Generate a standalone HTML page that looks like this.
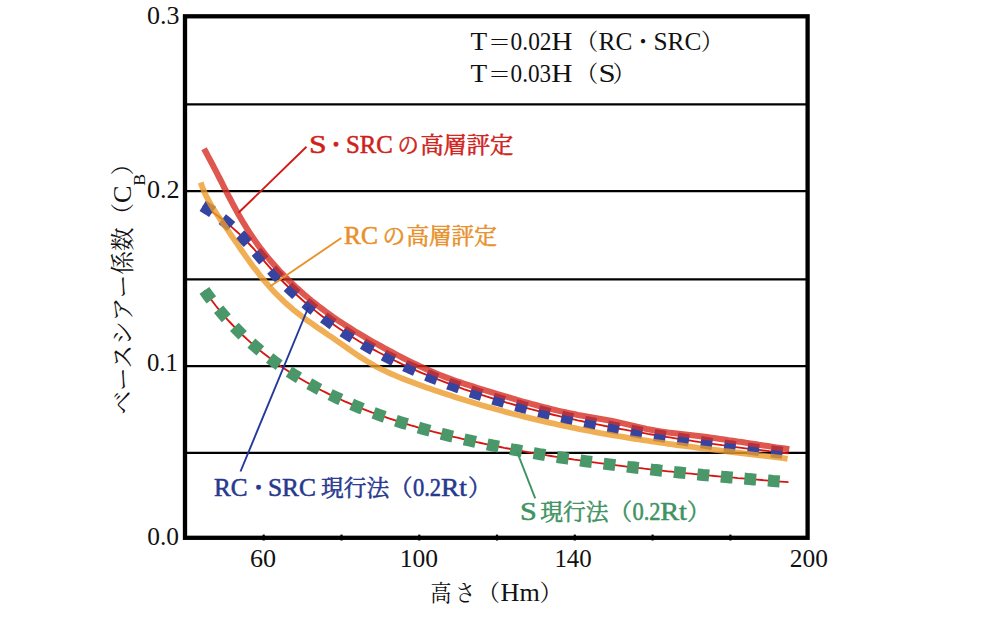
<!DOCTYPE html>
<html lang="ja"><head><meta charset="utf-8"><title>ベースシアー係数</title>
<style>
html,body{margin:0;padding:0;background:#fff;}
body{width:1000px;height:622px;overflow:hidden;}
svg{display:block;}
text{font-family:'Liberation Serif','Noto Serif CJK SC',serif;}
.cj{font-size:23px;}
.la{font-size:25.5px;}
.ax{font-size:24.5px;}
</style></head><body>
<svg width="1000" height="622" viewBox="0 0 1000 622">
<rect width="1000" height="622" fill="#fff"/>
<g stroke="#000" stroke-width="2.25" fill="none"><line x1="185" y1="104.4" x2="807.6" y2="104.4"/><line x1="185" y1="191.1" x2="807.6" y2="191.1"/><line x1="185" y1="279.4" x2="807.6" y2="279.4"/><line x1="185" y1="366.1" x2="807.6" y2="366.1"/><line x1="185" y1="452.8" x2="807.6" y2="452.8"/></g>
<g fill="none" stroke="#d8140e" stroke-width="1.85">
<path d="M202.8 205.8 L206.7 208.2 L210.6 210.7 L214.5 213.4 L218.4 216.2 L222.3 219.2 L226.2 222.3 L230.1 225.6 L234.0 229.1 L238.0 232.7 L241.9 236.5 L245.8 240.4 L249.7 244.5 L253.6 248.7 L257.5 253.1 L261.4 257.7 L265.3 262.3 L269.2 266.9 L273.1 271.2 L277.0 275.5 L280.9 279.6 L284.8 283.5 L288.7 287.4 L292.6 291.1 L296.5 294.8 L300.4 298.3 L304.3 301.7 L308.2 305.0 L312.1 308.3 L316.0 311.4 L319.9 314.5 L323.9 317.5 L327.8 320.4 L331.7 323.2 L335.6 326.0 L339.5 328.7 L343.4 331.3 L347.3 333.9 L351.2 336.4 L355.1 338.8 L359.0 341.2 L362.9 343.5 L366.8 345.8 L370.7 348.0 L374.6 350.1 L378.5 352.3 L382.4 354.3 L386.3 356.4 L390.2 358.3 L394.1 360.3 L398.0 362.2 L401.9 364.0 L405.8 365.9 L409.8 367.6 L413.7 369.4 L417.6 371.1 L421.5 372.8 L425.4 374.4 L429.3 376.0 L433.2 377.6 L437.1 379.2 L441.0 380.7 L444.9 382.2 L448.8 383.7 L452.7 385.1 L456.6 386.5 L460.5 387.9 L464.4 389.3 L468.3 390.6 L472.2 391.9 L476.1 393.2 L480.0 394.5 L483.9 395.7 L487.8 396.9 L491.7 398.1 L495.7 399.3 L499.6 400.5 L503.5 401.6 L507.4 402.8 L511.3 403.9 L515.2 405.0 L519.1 406.0 L523.0 407.1 L526.9 408.1 L530.8 409.2 L534.7 410.2 L538.6 411.2 L542.5 412.1 L546.4 413.1 L550.3 414.0 L554.2 415.0 L558.1 415.9 L562.0 416.8 L565.9 417.7 L569.8 418.6 L573.7 419.4 L577.6 420.3 L581.6 421.1 L585.5 422.0 L589.4 422.8 L593.3 423.6 L597.2 424.4 L601.1 425.2 L605.0 426.0 L608.9 426.7 L612.8 427.5 L616.7 428.2 L620.6 429.0 L624.5 429.7 L628.4 430.4 L632.3 431.1 L636.2 431.8 L640.1 432.5 L644.0 433.2 L647.9 433.9 L651.8 434.5 L655.7 435.2 L659.6 435.8 L663.5 436.5 L667.5 437.1 L671.4 437.7 L675.3 438.3 L679.2 438.9 L683.1 439.5 L687.0 440.1 L690.9 440.7 L694.8 441.3 L698.7 441.9 L702.6 442.4 L706.5 443.0 L710.4 443.6 L714.3 444.1 L718.2 444.6 L722.1 445.2 L726.0 445.7 L729.9 446.2 L733.8 446.8 L737.7 447.3 L741.6 447.8 L745.5 448.3 L749.4 448.8 L753.4 449.3 L757.3 449.7 L761.2 450.2 L765.1 450.7 L769.0 451.2 L772.9 451.6 L776.8 452.1 L780.7 452.5 L784.6 453.0 L788.5 453.4"/>
<path d="M204.4 290.4 L208.3 295.9 L212.2 301.0 L216.0 306.0 L219.9 310.8 L223.8 315.4 L227.7 319.8 L231.6 324.0 L235.5 328.1 L239.4 332.0 L243.3 335.8 L247.2 339.4 L251.1 342.9 L255.0 346.3 L258.9 349.6 L262.8 352.8 L266.7 355.8 L270.6 358.8 L274.5 361.7 L278.4 364.5 L282.2 367.2 L286.1 369.8 L290.0 372.3 L293.9 374.8 L297.8 377.2 L301.7 379.5 L305.6 381.8 L309.5 383.9 L313.4 386.1 L317.3 388.2 L321.2 390.2 L325.1 392.1 L329.0 394.1 L332.9 395.9 L336.8 397.7 L340.7 399.5 L344.6 401.3 L348.4 402.9 L352.3 404.6 L356.2 406.2 L360.1 407.8 L364.0 409.3 L367.9 410.8 L371.8 412.3 L375.7 413.7 L379.6 415.1 L383.5 416.5 L387.4 417.8 L391.3 419.1 L395.2 420.4 L399.1 421.7 L403.0 422.9 L406.9 424.1 L410.8 425.3 L414.7 426.4 L418.5 427.6 L422.4 428.7 L426.3 429.8 L430.2 430.8 L434.1 431.9 L438.0 432.9 L441.9 433.9 L445.8 434.9 L449.7 435.9 L453.6 436.8 L457.5 437.7 L461.4 438.7 L465.3 439.6 L469.2 440.5 L473.1 441.3 L477.0 442.2 L480.9 443.0 L484.7 443.8 L488.6 444.7 L492.5 445.5 L496.4 446.2 L500.3 447.0 L504.2 447.8 L508.1 448.5 L512.0 449.3 L515.9 450.0 L519.8 450.7 L523.7 451.4 L527.6 452.1 L531.5 452.8 L535.4 453.4 L539.3 454.1 L543.2 454.7 L547.1 455.4 L550.9 456.0 L554.8 456.6 L558.7 457.2 L562.6 457.8 L566.5 458.4 L570.4 459.0 L574.3 459.6 L578.2 460.1 L582.1 460.7 L586.0 461.3 L589.9 461.8 L593.8 462.3 L597.7 462.9 L601.6 463.4 L605.5 463.9 L609.4 464.4 L613.3 464.9 L617.1 465.4 L621.0 465.9 L624.9 466.4 L628.8 466.9 L632.7 467.3 L636.6 467.8 L640.5 468.2 L644.4 468.7 L648.3 469.1 L652.2 469.6 L656.1 470.0 L660.0 470.5 L663.9 470.9 L667.8 471.3 L671.7 471.7 L675.6 472.1 L679.5 472.5 L683.3 472.9 L687.2 473.3 L691.1 473.7 L695.0 474.1 L698.9 474.5 L702.8 474.9 L706.7 475.2 L710.6 475.6 L714.5 476.0 L718.4 476.3 L722.3 476.7 L726.2 477.0 L730.1 477.4 L734.0 477.7 L737.9 478.1 L741.8 478.4 L745.7 478.7 L749.6 479.1 L753.4 479.4 L757.3 479.7 L761.2 480.0 L765.1 480.3 L769.0 480.6 L772.9 481.0 L776.8 481.3 L780.7 481.6 L784.6 481.9 L788.5 482.2"/>
</g>
<path d="M202.8 205.8 L206.7 208.2 L210.6 210.7 L214.5 213.4 L218.4 216.2 L222.3 219.2 L226.2 222.3 L230.1 225.6 L234.0 229.1 L238.0 232.7 L241.9 236.5 L245.8 240.4 L249.7 244.5 L253.6 248.7 L257.5 253.1 L261.4 257.7 L265.3 262.3 L269.2 266.9 L273.1 271.2 L277.0 275.5 L280.9 279.6 L284.8 283.5 L288.7 287.4 L292.6 291.1 L296.5 294.8 L300.4 298.3 L304.3 301.7 L308.2 305.0 L312.1 308.3 L316.0 311.4 L319.9 314.5 L323.9 317.5 L327.8 320.4 L331.7 323.2 L335.6 326.0 L339.5 328.7 L343.4 331.3 L347.3 333.9 L351.2 336.4 L355.1 338.8 L359.0 341.2 L362.9 343.5 L366.8 345.8 L370.7 348.0 L374.6 350.1 L378.5 352.3 L382.4 354.3 L386.3 356.4 L390.2 358.3 L394.1 360.3 L398.0 362.2 L401.9 364.0 L405.8 365.9 L409.8 367.6 L413.7 369.4 L417.6 371.1 L421.5 372.8 L425.4 374.4 L429.3 376.0 L433.2 377.6 L437.1 379.2 L441.0 380.7 L444.9 382.2 L448.8 383.7 L452.7 385.1 L456.6 386.5 L460.5 387.9 L464.4 389.3 L468.3 390.6 L472.2 391.9 L476.1 393.2 L480.0 394.5 L483.9 395.7 L487.8 396.9 L491.7 398.1 L495.7 399.3 L499.6 400.5 L503.5 401.6 L507.4 402.8 L511.3 403.9 L515.2 405.0 L519.1 406.0 L523.0 407.1 L526.9 408.1 L530.8 409.2 L534.7 410.2 L538.6 411.2 L542.5 412.1 L546.4 413.1 L550.3 414.0 L554.2 415.0 L558.1 415.9 L562.0 416.8 L565.9 417.7 L569.8 418.6 L573.7 419.4 L577.6 420.3 L581.6 421.1 L585.5 422.0 L589.4 422.8 L593.3 423.6 L597.2 424.4 L601.1 425.2 L605.0 426.0 L608.9 426.7 L612.8 427.5 L616.7 428.2 L620.6 429.0 L624.5 429.7 L628.4 430.4 L632.3 431.1 L636.2 431.8 L640.1 432.5 L644.0 433.2 L647.9 433.9 L651.8 434.5 L655.7 435.2 L659.6 435.8 L663.5 436.5 L667.5 437.1 L671.4 437.7 L675.3 438.3 L679.2 438.9 L683.1 439.5 L687.0 440.1 L690.9 440.7 L694.8 441.3 L698.7 441.9 L702.6 442.4 L706.5 443.0 L710.4 443.6 L714.3 444.1 L718.2 444.6 L722.1 445.2 L726.0 445.7 L729.9 446.2 L733.8 446.8 L737.7 447.3 L741.6 447.8 L745.5 448.3 L749.4 448.8 L753.4 449.3 L757.3 449.7 L761.2 450.2 L765.1 450.7 L769.0 451.2 L772.9 451.6 L776.8 452.1 L780.7 452.5 L784.6 453.0 L788.5 453.4" fill="none" stroke="#3444a0" stroke-width="12.2" stroke-dasharray="11.6 12"/>
<path d="M204.4 290.4 L208.3 295.9 L212.2 301.0 L216.0 306.0 L219.9 310.8 L223.8 315.4 L227.7 319.8 L231.6 324.0 L235.5 328.1 L239.4 332.0 L243.3 335.8 L247.2 339.4 L251.1 342.9 L255.0 346.3 L258.9 349.6 L262.8 352.8 L266.7 355.8 L270.6 358.8 L274.5 361.7 L278.4 364.5 L282.2 367.2 L286.1 369.8 L290.0 372.3 L293.9 374.8 L297.8 377.2 L301.7 379.5 L305.6 381.8 L309.5 383.9 L313.4 386.1 L317.3 388.2 L321.2 390.2 L325.1 392.1 L329.0 394.1 L332.9 395.9 L336.8 397.7 L340.7 399.5 L344.6 401.3 L348.4 402.9 L352.3 404.6 L356.2 406.2 L360.1 407.8 L364.0 409.3 L367.9 410.8 L371.8 412.3 L375.7 413.7 L379.6 415.1 L383.5 416.5 L387.4 417.8 L391.3 419.1 L395.2 420.4 L399.1 421.7 L403.0 422.9 L406.9 424.1 L410.8 425.3 L414.7 426.4 L418.5 427.6 L422.4 428.7 L426.3 429.8 L430.2 430.8 L434.1 431.9 L438.0 432.9 L441.9 433.9 L445.8 434.9 L449.7 435.9 L453.6 436.8 L457.5 437.7 L461.4 438.7 L465.3 439.6 L469.2 440.5 L473.1 441.3 L477.0 442.2 L480.9 443.0 L484.7 443.8 L488.6 444.7 L492.5 445.5 L496.4 446.2 L500.3 447.0 L504.2 447.8 L508.1 448.5 L512.0 449.3 L515.9 450.0 L519.8 450.7 L523.7 451.4 L527.6 452.1 L531.5 452.8 L535.4 453.4 L539.3 454.1 L543.2 454.7 L547.1 455.4 L550.9 456.0 L554.8 456.6 L558.7 457.2 L562.6 457.8 L566.5 458.4 L570.4 459.0 L574.3 459.6 L578.2 460.1 L582.1 460.7 L586.0 461.3 L589.9 461.8 L593.8 462.3 L597.7 462.9 L601.6 463.4 L605.5 463.9 L609.4 464.4 L613.3 464.9 L617.1 465.4 L621.0 465.9 L624.9 466.4 L628.8 466.9 L632.7 467.3 L636.6 467.8 L640.5 468.2 L644.4 468.7 L648.3 469.1 L652.2 469.6 L656.1 470.0 L660.0 470.5 L663.9 470.9 L667.8 471.3 L671.7 471.7 L675.6 472.1 L679.5 472.5 L683.3 472.9 L687.2 473.3 L691.1 473.7 L695.0 474.1 L698.9 474.5 L702.8 474.9 L706.7 475.2 L710.6 475.6 L714.5 476.0 L718.4 476.3 L722.3 476.7 L726.2 477.0 L730.1 477.4 L734.0 477.7 L737.9 478.1 L741.8 478.4 L745.7 478.7 L749.6 479.1 L753.4 479.4 L757.3 479.7 L761.2 480.0 L765.1 480.3 L769.0 480.6 L772.9 481.0 L776.8 481.3 L780.7 481.6 L784.6 481.9 L788.5 482.2" fill="none" stroke="#4a986a" stroke-width="12" stroke-dasharray="11.8 11.8"/>
<path d="M200.7 182.5 L202.2 186.8 L203.9 191.0 L205.7 195.0 L207.7 198.9 L209.7 202.6 L211.8 206.3 L214.0 209.8 L216.3 213.4 L218.7 216.8 L221.0 220.3 L223.4 223.8 L225.8 227.2 L228.2 230.7 L230.6 234.3 L233.0 237.8 L235.4 241.4 L237.9 244.9 L240.3 248.5 L242.8 252.0 L245.3 255.6 L247.8 259.1 L250.4 262.7 L252.9 266.2 L255.6 269.6 L258.2 273.1 L260.9 276.5 L263.6 279.8 L266.4 283.1 L269.2 286.4 L272.1 289.6 L275.0 292.7 L278.0 295.8 L281.0 298.7 L284.1 301.7 L287.3 304.5 L290.5 307.3 L293.7 310.0 L297.0 312.6 L300.4 315.2 L303.7 317.8 L307.1 320.3 L310.6 322.7 L314.1 325.1 L317.5 327.6 L321.1 330.0 L324.6 332.3 L328.1 334.8 L331.7 337.2 L335.2 339.6 L338.8 342.1 L342.3 344.6 L345.9 347.1 L349.4 349.6 L353.0 352.1 L356.6 354.6 L360.2 357.0 L363.9 359.3 L367.6 361.6 L371.3 363.8 L375.0 365.9 L378.8 368.0 L382.7 369.9 L386.5 371.7 L390.4 373.5 L394.3 375.2 L398.3 376.9 L402.3 378.5 L406.2 380.0 L410.2 381.5 L414.3 383.0 L418.3 384.5 L422.3 385.9 L426.3 387.4 L430.4 388.8 L434.4 390.2 L438.5 391.6 L442.5 392.9 L446.6 394.3 L450.7 395.6 L454.8 396.9 L458.8 398.2 L462.9 399.5 L467.0 400.8 L471.1 402.0 L475.2 403.3 L479.3 404.5 L483.5 405.7 L487.6 406.9 L491.7 408.0 L495.8 409.2 L500.0 410.3 L504.1 411.5 L508.3 412.6 L512.4 413.7 L516.6 414.7 L520.7 415.8 L524.9 416.9 L529.1 417.9 L533.2 418.9 L537.4 419.9 L541.6 420.9 L545.8 421.9 L550.0 422.8 L554.2 423.7 L558.4 424.7 L562.6 425.6 L566.8 426.5 L571.0 427.3 L575.2 428.2 L579.4 429.1 L583.6 429.9 L587.8 430.7 L592.0 431.5 L596.3 432.3 L600.5 433.1 L604.7 433.8 L609.0 434.6 L613.2 435.3 L617.4 436.0 L621.7 436.7 L625.9 437.4 L630.1 438.1 L634.4 438.8 L638.6 439.4 L642.9 440.1 L647.1 440.7 L651.4 441.4 L655.6 442.0 L659.9 442.6 L664.1 443.2 L668.4 443.8 L672.6 444.4 L676.9 445.0 L681.2 445.5 L685.4 446.1 L689.7 446.7 L693.9 447.2 L698.2 447.8 L702.5 448.3 L706.7 448.8 L711.0 449.4 L715.2 449.9 L719.5 450.4 L723.8 451.0 L728.0 451.5 L732.3 452.0 L736.6 452.5 L740.8 453.0 L745.1 453.6 L749.3 454.1 L753.6 454.6 L757.9 455.1 L762.1 455.6 L766.4 456.2 L770.6 456.7 L774.9 457.2 L779.1 457.7 L783.4 458.2 L787.6 458.8" fill="none" stroke="#ec9b2a" stroke-opacity="0.8" stroke-width="5.8"/>
<path d="M204.0 148.8 L206.1 152.6 L208.1 156.4 L210.2 160.2 L212.2 164.0 L214.2 167.9 L216.2 171.7 L218.2 175.6 L220.2 179.5 L222.2 183.4 L224.1 187.3 L226.1 191.2 L228.1 195.1 L230.2 199.0 L232.2 202.8 L234.3 206.7 L236.4 210.6 L238.5 214.4 L240.7 218.2 L242.9 222.0 L245.2 225.7 L247.5 229.5 L249.9 233.2 L252.3 236.8 L254.8 240.4 L257.3 244.0 L259.9 247.6 L262.6 251.0 L265.3 254.5 L268.1 257.9 L270.9 261.2 L273.8 264.5 L276.7 267.8 L279.6 271.0 L282.7 274.2 L285.7 277.3 L288.8 280.4 L292.0 283.5 L295.1 286.5 L298.4 289.4 L301.6 292.3 L304.9 295.2 L308.3 298.0 L311.6 300.8 L315.0 303.5 L318.4 306.2 L321.9 308.8 L325.4 311.4 L328.9 314.0 L332.4 316.5 L336.0 318.9 L339.5 321.4 L343.2 323.8 L346.8 326.1 L350.5 328.4 L354.1 330.7 L357.8 333.0 L361.6 335.2 L365.3 337.4 L369.1 339.6 L372.9 341.8 L376.7 343.9 L380.5 346.0 L384.4 348.2 L388.2 350.2 L392.1 352.3 L396.0 354.4 L399.9 356.4 L403.9 358.4 L407.8 360.4 L411.8 362.4 L415.8 364.3 L419.8 366.2 L423.8 368.1 L427.8 369.9 L431.9 371.6 L435.9 373.4 L440.0 375.0 L444.1 376.6 L448.1 378.1 L452.2 379.6 L456.3 381.1 L460.5 382.5 L464.6 383.9 L468.7 385.2 L472.9 386.5 L477.0 387.8 L481.2 389.1 L485.3 390.4 L489.5 391.7 L493.7 392.9 L497.8 394.2 L502.0 395.4 L506.2 396.7 L510.4 397.9 L514.6 399.2 L518.8 400.4 L523.0 401.6 L527.2 402.7 L531.4 403.9 L535.7 405.0 L539.9 406.2 L544.1 407.3 L548.3 408.3 L552.6 409.4 L556.8 410.4 L561.1 411.4 L565.3 412.3 L569.6 413.2 L573.8 414.1 L578.1 415.0 L582.4 415.8 L586.6 416.5 L590.9 417.3 L595.2 418.1 L599.4 418.8 L603.7 419.5 L608.0 420.3 L612.3 421.1 L616.6 422.0 L620.9 422.9 L625.2 423.9 L629.5 424.9 L633.8 426.0 L638.1 427.0 L642.4 428.0 L646.7 429.0 L651.0 429.8 L655.3 430.6 L659.6 431.3 L663.9 431.9 L668.2 432.5 L672.5 433.0 L676.9 433.5 L681.2 434.0 L685.5 434.5 L689.8 435.0 L694.1 435.5 L698.5 436.1 L702.8 436.6 L707.1 437.1 L711.4 437.7 L715.8 438.3 L720.1 438.9 L724.4 439.5 L728.7 440.2 L733.1 440.8 L737.4 441.5 L741.7 442.1 L746.0 442.8 L750.4 443.4 L754.7 444.1 L759.0 444.8 L763.4 445.4 L767.7 446.1 L772.0 446.8 L776.3 447.4 L780.7 448.0 L785.0 448.6 L789.3 449.3" fill="none" stroke="#d62e24" stroke-opacity="0.8" stroke-width="6.1"/>
<g fill="none" stroke-width="1.9">
<line x1="306.5" y1="146.8" x2="238.5" y2="212.8" stroke="#d01a16"/>
<line x1="341.3" y1="238" x2="270.3" y2="286.2" stroke="#e8922a"/>
<line x1="308.5" y1="307" x2="240.5" y2="471.5" stroke="#24389a"/>
<line x1="517.2" y1="452.1" x2="535.2" y2="498.3" stroke="#3f9363"/>
</g>
<rect x="185" y="16.3" width="622.6" height="521.5" fill="none" stroke="#000" stroke-width="4.3"/>
<g stroke="#000" stroke-width="2.2"><line x1="263.7" y1="534.6" x2="263.7" y2="540.5"/><line x1="341.5" y1="534.6" x2="341.5" y2="540.5"/><line x1="419.3" y1="534.6" x2="419.3" y2="540.5"/><line x1="497.0" y1="534.6" x2="497.0" y2="540.5"/><line x1="574.8" y1="534.6" x2="574.8" y2="540.5"/><line x1="652.6" y1="534.6" x2="652.6" y2="540.5"/><line x1="730.4" y1="534.6" x2="730.4" y2="540.5"/></g>
<g fill="#111">
<text class="la" transform="translate(470.4 49.7) scale(1.070 1)">T</text>
<text class="cj" x="487.9" y="49.7">＝</text>
<text class="la" transform="translate(510.6 49.7) scale(0.917 1)">0.02</text>
<text class="la" transform="translate(551.3 49.7) scale(1.152 1)">H</text>
<text class="cj" x="575.2" y="49.7">（</text>
<text class="la" transform="translate(598.6 49.7) scale(0.995 1)">RC</text>
<text class="cj" x="631.4" y="49.7">・</text>
<text class="la" transform="translate(653.4 49.7) scale(0.995 1)">SRC</text>
<text class="cj" x="700.8" y="49.7">）</text>
</g>
<g fill="#111">
<text class="la" transform="translate(470.4 81.6) scale(1.070 1)">T</text>
<text class="cj" x="487.9" y="81.6">＝</text>
<text class="la" transform="translate(510.6 81.6) scale(0.909 1)">0.03</text>
<text class="la" transform="translate(551.3 81.6) scale(1.152 1)">H</text>
<text class="cj" x="575.2" y="81.6">（</text>
<text class="la" transform="translate(598.5 81.6) scale(1.210 1)">S</text>
<text class="cj" x="612.6" y="81.6">）</text>
</g>
<g fill="#cf1f1b" stroke="#cf1f1b" stroke-width="0.55">
<text class="la" transform="translate(309.1 153.1) scale(1.237 1)">S</text>
<text class="cj" x="324.4" y="153.1">・</text>
<text class="la" transform="translate(345.9 153.1) scale(0.971 1)">SRC</text>
<text class="cj" transform="translate(397.6 153.1) scale(0.926 1)">の</text>
<text class="cj" transform="translate(420.4 153.1) scale(1.007 1)">高層評定</text>
</g>
<g fill="#e8902a" stroke="#e8902a" stroke-width="0.55">
<text class="la" transform="translate(344.1 243.8) scale(0.999 1)">RC</text>
<text class="cj" transform="translate(382.4 243.8) scale(0.990 1)">の</text>
<text class="cj" transform="translate(406.4 243.8) scale(0.984 1)">高層評定</text>
</g>
<g fill="#27388f" stroke="#27388f" stroke-width="0.55">
<text class="la" transform="translate(214.0 495.5) scale(0.986 1)">RC</text>
<text class="cj" x="247.0" y="495.5">・</text>
<text class="la" transform="translate(268.0 495.5) scale(0.995 1)">SRC</text>
<text class="cj" transform="translate(321.1 495.5) scale(0.987 1)">現行法</text>
<text class="cj" x="389.6" y="495.5">（</text>
<text class="la" transform="translate(412.9 495.5) scale(0.883 1)">0.2</text>
<text class="la" transform="translate(441.1 495.5) scale(1.072 1)">Rt</text>
<text class="cj" x="468.1" y="495.5">）</text>
</g>
<g fill="#3f9363" stroke="#3f9363" stroke-width="0.55">
<text class="la" transform="translate(520.1 520.3) scale(1.183 1)">S</text>
<text class="cj" transform="translate(540.3 520.3) scale(0.988 1)">現行法</text>
<text class="cj" x="608.9" y="520.3">（</text>
<text class="la" transform="translate(632.4 520.3) scale(0.883 1)">0.2</text>
<text class="la" transform="translate(660.2 520.3) scale(1.110 1)">Rt</text>
<text class="cj" x="687.1" y="520.3">）</text>
</g>
<g fill="#111">
<text class="cj" transform="translate(430.5 600.6) scale(0.907 1)">高</text>
<text class="cj" transform="translate(455.5 600.6) scale(0.841 1)">さ</text>
<text class="cj" x="477.1" y="600.6">（</text>
<text class="la" transform="translate(500.6 600.6) scale(1.023 1)">Hm</text>
<text class="cj" x="539.4" y="600.6">）</text>
</g>
<g fill="#111">
<text class="ax" transform="translate(146.9 24.0) scale(1.062 1)">0.3</text>
</g>
<g fill="#111">
<text class="ax" transform="translate(146.9 198.0) scale(1.069 1)">0.2</text>
</g>
<g fill="#111">
<text class="ax" transform="translate(146.9 371.4) scale(1.010 1)">0.1</text>
</g>
<g fill="#111">
<text class="ax" transform="translate(147.2 545.1) scale(1.038 1)">0.0</text>
</g>
<g fill="#111">
<text class="ax" transform="translate(249.9 567.0) scale(1.067 1)">60</text>
<text class="ax" transform="translate(399.7 567.0) scale(1.042 1)">100</text>
<text class="ax" transform="translate(554.4 567.0) scale(1.016 1)">140</text>
<text class="ax" transform="translate(789.8 567.0) scale(1.039 1)">200</text>
</g>
<g transform="translate(131.3 415.5) rotate(-90)" fill="#111">
<text style="font-size:23.6px" transform="translate(0.9 0.0) scale(1.002 1)">ベースシアー係数</text>
<text style="font-size:23.6px" transform="translate(189.1 0.0) scale(1.000 1)">（</text>
<text style="font-size:25.5px" transform="translate(212.4 0.0) scale(1.030 1)">C</text>
<text style="font-size:16.5px" transform="translate(229.7 13.3) scale(1.084 1)">B</text>
<text style="font-size:23.6px" transform="translate(240.1 0.0) scale(1.000 1)">）</text>
</g>
</svg>
</body></html>
